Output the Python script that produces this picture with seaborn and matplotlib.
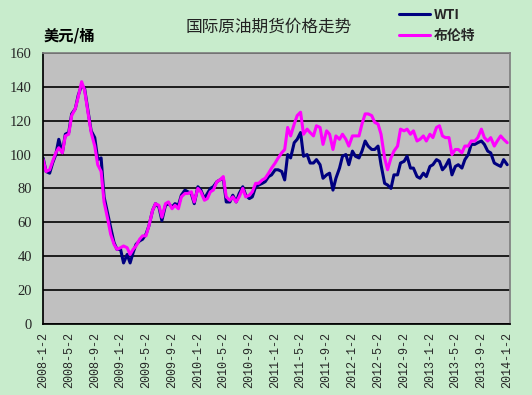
import matplotlib
matplotlib.use("Agg")
import matplotlib.pyplot as plt
import matplotlib.dates as mdates
import numpy as np
import pandas as pd
import seaborn as sns

# semi-monthly readings (2nd and 16th of each month), 2008-01-02 .. 2014-01-02
wti = [
    98, 90, 89, 95, 100, 109, 101, 112, 113, 124, 127, 135,
    141, 139, 125, 114, 110, 97, 98, 75, 65, 57, 48, 44,
    44, 36, 41, 36, 42, 47, 49, 50, 53, 58, 67, 71,
    69, 61, 70, 71, 69, 71, 70, 76, 79, 78, 77, 71,
    81, 79, 74, 77, 80, 81, 84, 85, 86, 72, 72, 76,
    72, 77, 81, 76, 74, 75, 81, 82, 83, 84, 87, 88,
    91, 91, 90, 85, 100, 98, 107, 109, 113, 99, 100, 95,
    95, 97, 94, 86, 88, 89, 79, 86, 92, 99, 100, 94,
    102, 99, 98, 102, 108, 105, 103, 103, 105, 94, 83, 82,
    80, 88, 88, 95, 96, 99, 92, 92, 87, 86, 89, 87,
    93, 94, 97, 96, 91, 93, 97, 88, 93, 94, 92, 97,
    100, 106, 106, 107, 108, 106, 102, 101, 95, 94, 93, 97,
    94,
]
brent = [
    97, 90, 91, 96, 101, 104, 101, 111, 112, 123, 127, 134,
    143, 138, 124, 113, 105, 94, 90, 72, 62, 53, 47, 44,
    45, 46, 45, 41, 44, 46, 50, 52, 52, 58, 67, 71,
    70, 63, 71, 72, 68, 70, 68, 75, 77, 77, 78, 72,
    80, 78, 73, 74, 78, 79, 84, 85, 87, 75, 73, 75,
    72, 75, 80, 75, 76, 78, 83, 83, 85, 86, 89, 92,
    95, 98, 101, 103, 116, 111, 118, 123, 125, 112, 115, 113,
    111, 117, 116, 106, 114, 112, 103, 111, 109, 112, 109, 105,
    111, 111, 111, 118, 124, 124, 123, 119, 118, 112, 98, 91,
    98, 102, 105, 115, 114, 115, 112, 114, 108, 109, 111, 108,
    112, 110, 116, 117, 111, 110, 110, 100, 103, 103, 101, 105,
    105, 108, 108, 110, 115, 110, 108, 110, 105, 108, 111, 109,
    107,
]
dates = pd.date_range("2008-01-01", "2014-01-01", freq="SMS") + pd.Timedelta(days=1)
tick_dates = pd.date_range("2008-01-01", "2014-01-01", freq="4MS") + pd.Timedelta(days=1)
tick_labels = [f"{d.year}-{d.month}-{d.day}" for d in tick_dates]

df = pd.DataFrame({"date": dates, "WTI": wti, "布伦特": brent})

sns.set_theme(style="white")
plt.rcParams["font.family"] = ["Noto Sans CJK SC", "DejaVu Sans"]

bg = "#C8ECCC"
fig = plt.figure(figsize=(5.32, 3.95), dpi=100, facecolor=bg)
ax = fig.add_axes([0.081, 0.18, 0.878, 0.686])
ax.set_facecolor("#C0C0C0")

sns.lineplot(data=df, x="date", y="WTI", color="#000080", linewidth=2.2,
             label="WTI", ax=ax)
sns.lineplot(data=df, x="date", y="布伦特", color="#FF00FF", linewidth=2.2,
             label="布伦特", ax=ax)

ax.set_ylim(0, 160)
ax.set_yticks(np.arange(0, 161, 20))
ax.yaxis.grid(True, color="black", linewidth=1.2)
ax.set_axisbelow(True)
ax.set_xlim(tick_dates[0], tick_dates[-1] + pd.Timedelta(days=14))
ax.set_xticks(tick_dates)
ax.set_xticklabels(tick_labels, rotation=90, family="Liberation Mono", fontsize=8.5)
for lab in ax.get_yticklabels():
    lab.set_family("Liberation Serif")
    lab.set_fontsize(10.5)
ax.tick_params(axis="x", direction="in", length=3, width=1, color="black", pad=6)
ax.tick_params(axis="y", length=0, pad=8)
ax.set_xlabel("")
ax.set_ylabel("")
for side in ("left", "bottom"):
    ax.spines[side].set_color("black")
for side in ("top", "right"):
    ax.spines[side].set_color("#808080")

fig.text(0.505, 0.93, "国际原油期货价格走势", ha="center", va="center",
         fontsize=12, color="#222222")
fig.text(0.081, 0.91, "美元/桶", ha="left", va="center", fontsize=11,
         fontweight="bold", color="black")

leg = ax.legend(loc="upper left", bbox_to_anchor=(0.735, 1.0),
                bbox_transform=fig.transFigure, frameon=False,
                handlelength=2.2, handletextpad=0.3, labelspacing=0.45,
                prop={"size": 10, "weight": "bold"}, borderaxespad=0.2)

fig.savefig("out.png", dpi=100, facecolor=bg)
